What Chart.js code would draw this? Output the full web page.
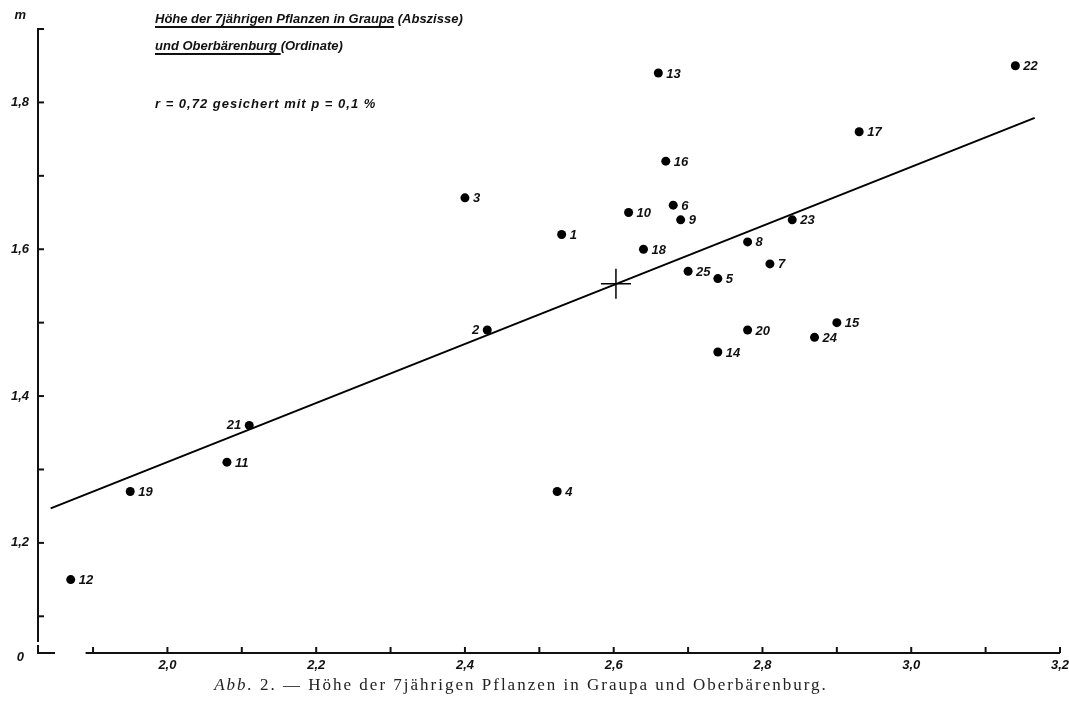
<!DOCTYPE html>
<html lang="de">
<head>
<meta charset="utf-8">
<title>Höhe der 7jährigen Pflanzen in Graupa und Oberbärenburg</title>
<script src="https://cdn.jsdelivr.net/npm/chart.js@4.4.1/dist/chart.umd.min.js"></script>
<style>
  html, body { margin: 0; padding: 0; background: #fff; }
  #wrap { position: relative; width: 1069px; height: 705px; overflow: hidden; }
  #chart { position: absolute; left: 0; top: 0; }
  .hand { position: absolute; font: italic 600 13px "Liberation Sans", sans-serif; color: #111; white-space: nowrap; }
  .hand u { text-decoration-thickness: 1.5px; text-underline-offset: 3px; }
  #caption { position: absolute; left: 0; width: 1042px; top: 675px; text-align: center;
             font: 17px "Liberation Serif", serif; color: #222; letter-spacing: 2px; }
</style>
</head>
<body>
<div id="wrap">
  <canvas id="chart" width="1069" height="705"></canvas>
  <div class="hand" style="left:155px; top:11px;"><u>Höhe der 7jährigen Pflanzen in Graupa</u> (Abszisse)</div>
  <div class="hand" style="left:155px; top:38px;"><u>und Oberbärenburg </u>(Ordinate)</div>
  <div class="hand" style="left:155px; top:96px; letter-spacing:1px;">r = 0,72 gesichert mit p = 0,1 %</div>
  <div id="caption"><i>Abb.</i> 2. — Höhe der 7jährigen Pflanzen in Graupa und Oberbärenburg.</div>
</div>
<script>
// Pflanzen-Nr. und Höhe (m) in Graupa (x) und Oberbärenburg (y)
const plantNo = ['1','2','3','4','5','6','7','8','9','10','11','12','13',
                 '14','15','16','17','18','19','20','21','22','23','24','25'];
const graupa = [2.53, 2.43, 2.40, 2.524, 2.74, 2.68, 2.81, 2.78, 2.69, 2.62, 2.08, 1.87, 2.66,
                2.74, 2.90, 2.67, 2.93, 2.64, 1.95, 2.78, 2.11, 3.14, 2.84, 2.87, 2.70];
const oberbaerenburg = [1.62, 1.49, 1.67, 1.27, 1.56, 1.66, 1.58, 1.61, 1.64, 1.65, 1.31, 1.15, 1.84,
                        1.46, 1.50, 1.72, 1.76, 1.60, 1.27, 1.49, 1.36, 1.85, 1.64, 1.48, 1.57];
// labels drawn on the left of the point
const leftLabels = ['2', '21'];

// regression line (ends) and the mean point
const lineX = [1.843, 3.166];
const lineY = [1.247, 1.779];
const meanX = [2.603];
const meanY = [1.553];

// axes
const xTicks = [1.9, 2.0, 2.1, 2.2, 2.3, 2.4, 2.5, 2.6, 2.7, 2.8, 2.9, 3.0, 3.1, 3.2];
const xTickLabels = ['', '2,0', '', '2,2', '', '2,4', '', '2,6', '', '2,8', '', '3,0', '', '3,2'];
const yTicks = [1.1, 1.2, 1.3, 1.4, 1.5, 1.6, 1.7, 1.8, 1.9];
const yTickLabels = ['', '1,2', '', '1,4', '', '1,6', '', '1,8', ''];

const handFont = 'italic bold 13px "Liberation Sans", sans-serif';

const toPoints = (xs, ys) => xs.map((x, i) => ({x: x, y: ys[i]}));

const axesPlugin = {
    id: 'handAxes',
    afterDraw(chart) {
        const ctx = chart.ctx;
        const xs = chart.scales.x;
        const ys = chart.scales.y;
        const left = chart.chartArea.left;
        const bottom = chart.chartArea.bottom;
        ctx.save();
        ctx.strokeStyle = '#111';
        ctx.fillStyle = '#111';
        ctx.lineWidth = 2;
        ctx.lineCap = 'butt';

        // y axis, broken above the origin
        const yTop = ys.getPixelForValue(1.9);
        ctx.beginPath();
        ctx.moveTo(left + 6, yTop);
        ctx.lineTo(left, yTop);
        ctx.lineTo(left, ys.getPixelForValue(1.065));
        ctx.stroke();
        yTicks.forEach(v => {
            if (v === 1.9) return;
            const py = ys.getPixelForValue(v);
            ctx.beginPath();
            ctx.moveTo(left, py);
            ctx.lineTo(left + 6, py);
            ctx.stroke();
        });
        // origin corner
        ctx.beginPath();
        ctx.moveTo(left, bottom - 8);
        ctx.lineTo(left, bottom);
        ctx.lineTo(left + 17, bottom);
        ctx.stroke();

        // x axis
        ctx.beginPath();
        ctx.moveTo(xs.getPixelForValue(1.89), bottom);
        ctx.lineTo(xs.getPixelForValue(3.2), bottom);
        ctx.stroke();
        xTicks.forEach(v => {
            const px = xs.getPixelForValue(v);
            ctx.beginPath();
            ctx.moveTo(px, bottom);
            ctx.lineTo(px, bottom - 6);
            ctx.stroke();
        });

        // tick labels
        ctx.font = handFont;
        ctx.textBaseline = 'middle';
        ctx.textAlign = 'center';
        xTicks.forEach((v, i) => {
            if (xTickLabels[i]) ctx.fillText(xTickLabels[i], xs.getPixelForValue(v), bottom + 12);
        });
        ctx.textAlign = 'right';
        yTicks.forEach((v, i) => {
            if (yTickLabels[i]) ctx.fillText(yTickLabels[i], left - 9, ys.getPixelForValue(v));
        });
        ctx.fillText('0', left - 14, bottom + 4);
        ctx.fillText('m', left - 12, yTop - 14);

        // point numbers
        const meta = chart.getDatasetMeta(0);
        meta.data.forEach((pt, i) => {
            const name = plantNo[i];
            if (leftLabels.includes(name)) {
                ctx.textAlign = 'right';
                ctx.fillText(name, pt.x - 8, pt.y);
            } else {
                ctx.textAlign = 'left';
                ctx.fillText(name, pt.x + 8, pt.y + 1);
            }
        });
        ctx.restore();
    }
};

new Chart(document.getElementById('chart'), {
    type: 'scatter',
    data: {
        datasets: [{
            label: 'Pflanzen',
            data: toPoints(graupa, oberbaerenburg),
            backgroundColor: '#000',
            borderWidth: 0,
            pointRadius: 4.5,
            order: 1
        }, {
            type: 'line',
            label: 'Regression',
            data: toPoints(lineX, lineY),
            borderColor: '#000',
            borderWidth: 2,
            pointRadius: 0,
            fill: false,
            order: 2
        }, {
            label: 'Mittelwert',
            data: toPoints(meanX, meanY),
            pointStyle: 'cross',
            pointRadius: 15,
            borderColor: '#000',
            borderWidth: 1.5,
            order: 0
        }]
    },
    options: {
        responsive: false,
        animation: false,
        devicePixelRatio: 1,
        layout: { autoPadding: false, padding: { left: 38, right: 9, top: 29, bottom: 52 } },
        plugins: {
            legend: { display: false },
            tooltip: { enabled: false }
        },
        scales: {
            x: { type: 'linear', min: 1.826, max: 3.2, display: false },
            y: { type: 'linear', min: 1.05, max: 1.9, display: false }
        }
    },
    plugins: [axesPlugin]
});
</script>
</body>
</html>
